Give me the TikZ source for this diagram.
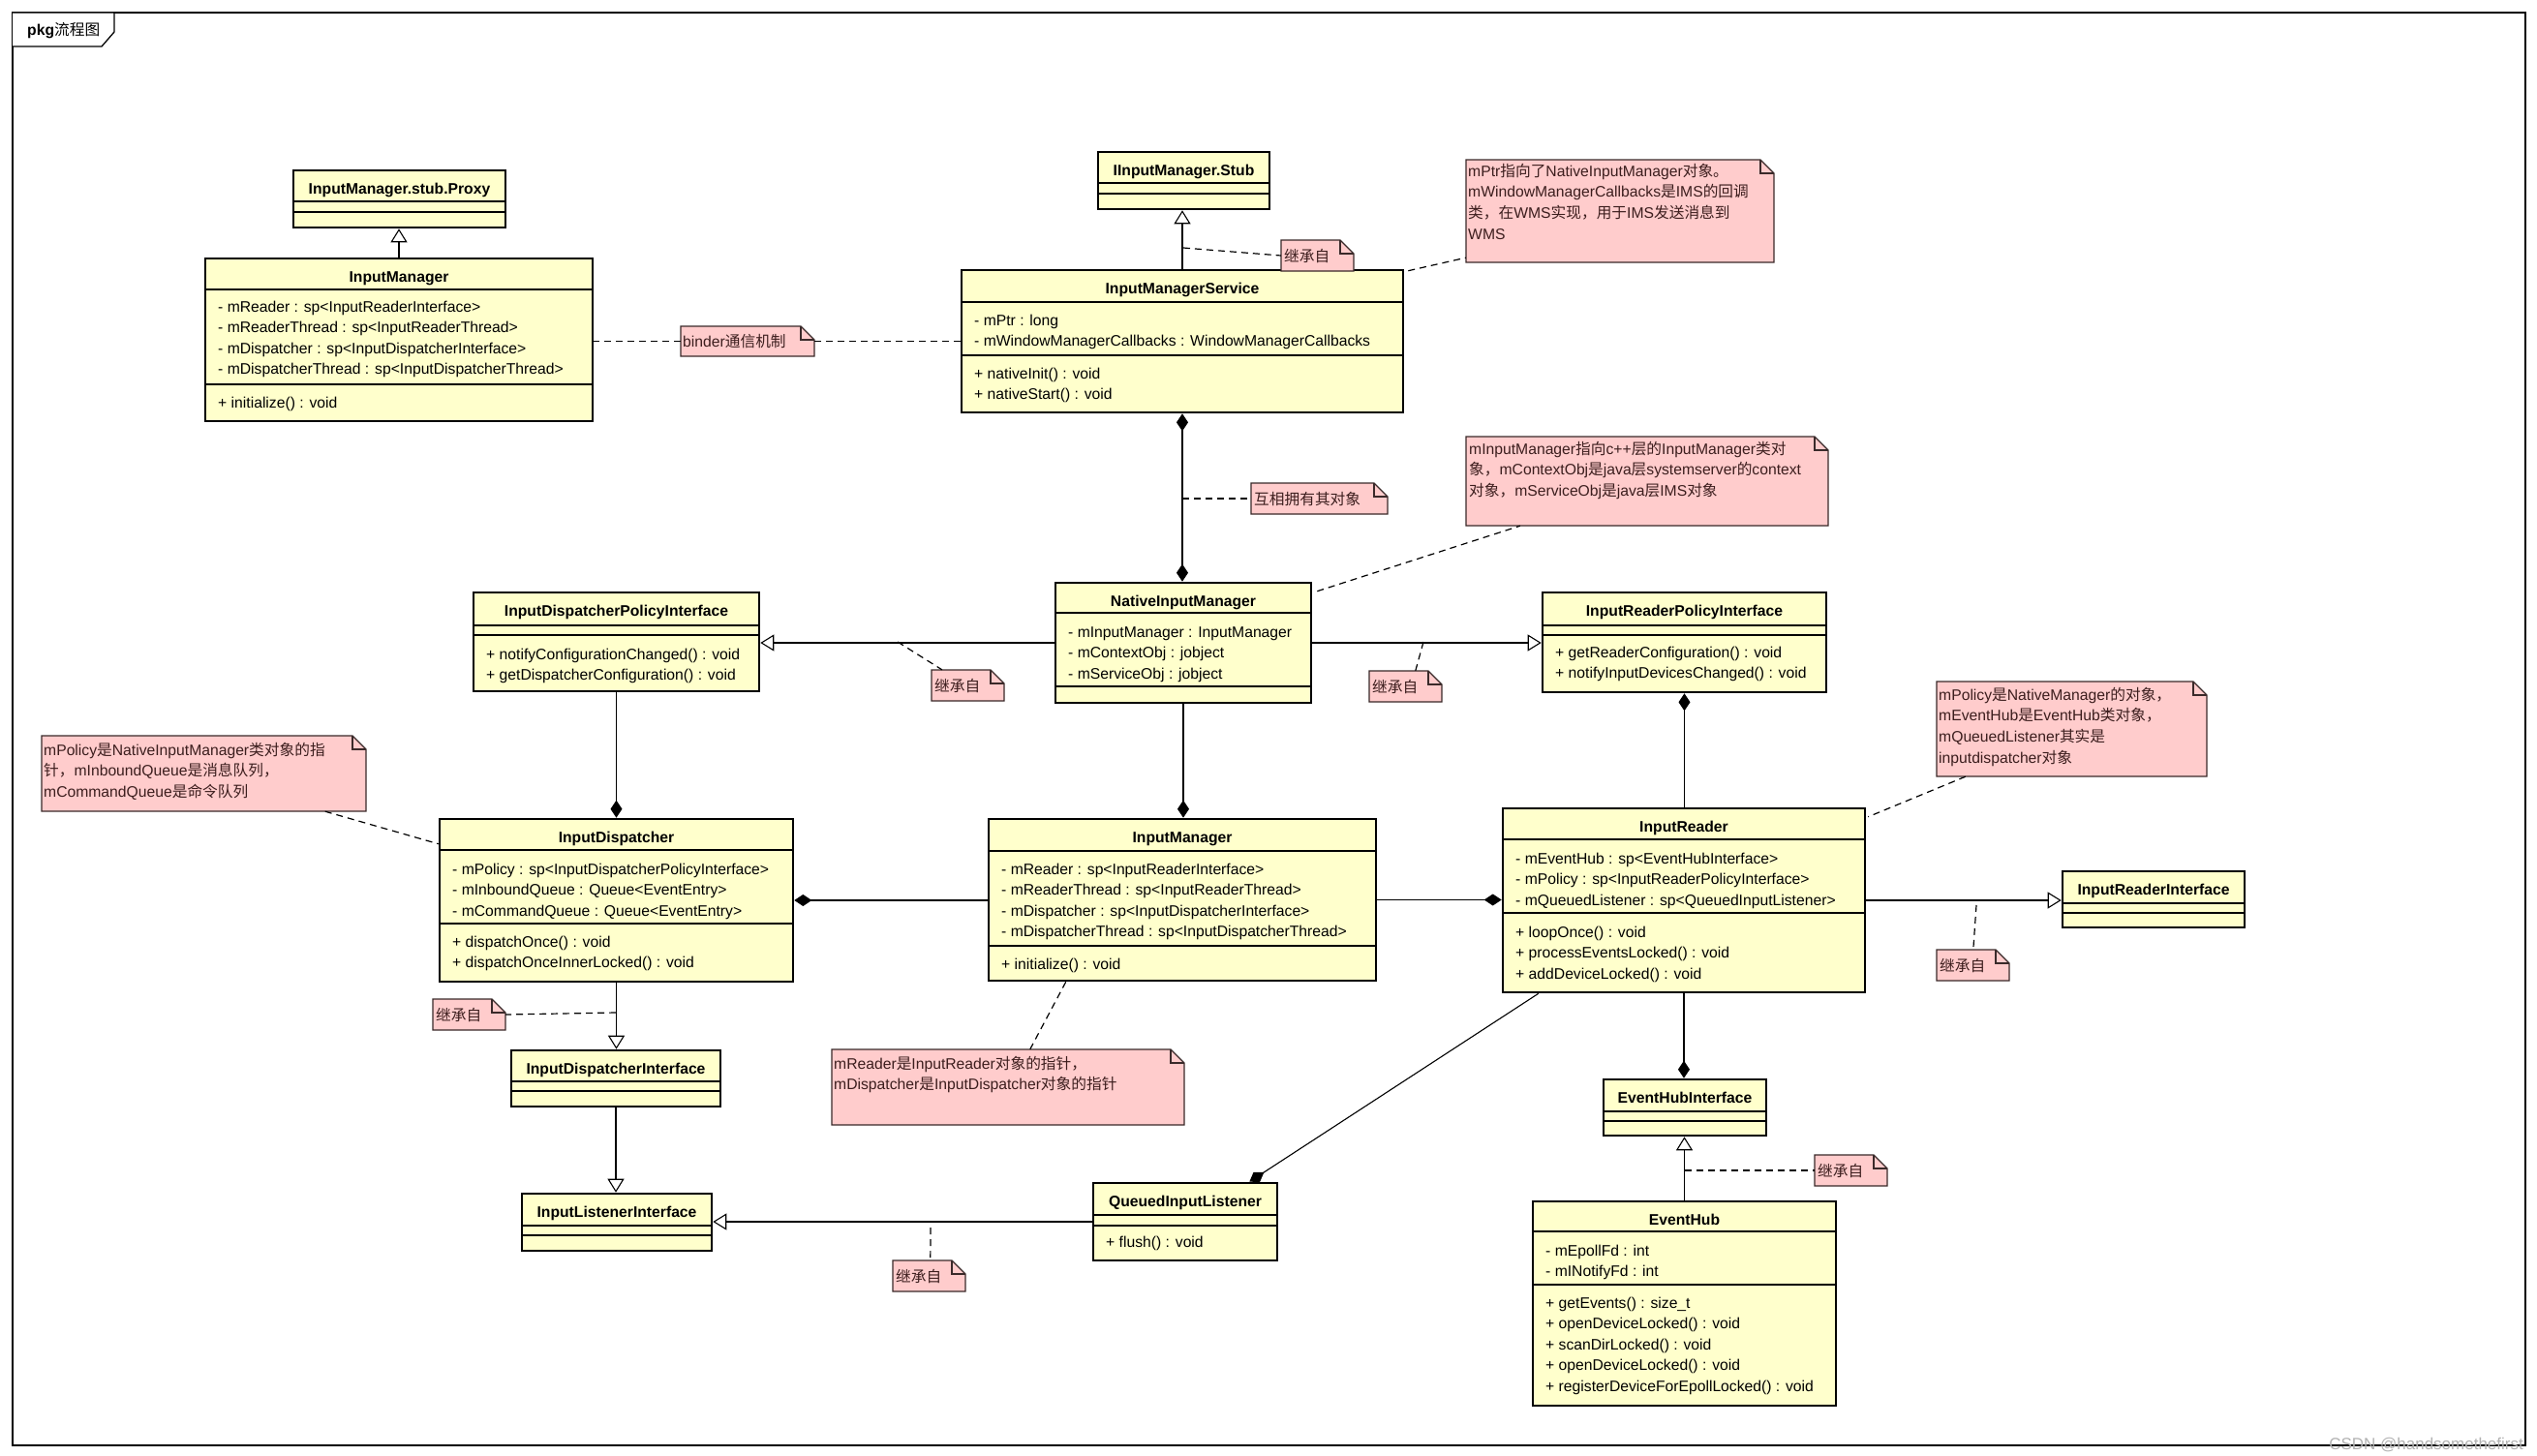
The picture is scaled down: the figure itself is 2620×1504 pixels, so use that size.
\documentclass[tikz,border=0pt]{standalone}
\usepackage{fontspec}
\setmainfont{Liberation Sans}
\newfontfamily\cjk{Noto Sans CJK SC}
\usetikzlibrary{calc, fit, arrows.meta}

\definecolor{classfill}{HTML}{FFFFCC}
\definecolor{notefill}{HTML}{FFCCCC}
\definecolor{notedraw}{HTML}{3A2A2A}
\definecolor{noteink}{HTML}{3C1E1E}

\newcommand{\zh}[1]{{\cjk #1}}

\tikzset{
  classbox/.style={draw=black, line width=2.6pt, fill=classfill, inner sep=0pt},
  classsep/.style={line width=1.2pt},
  classtitle/.style={font=\bfseries\fontsize{15.7}{18}\selectfont, inner sep=0pt},
  member/.style={font=\fontsize{15.7}{18}\selectfont, inner sep=0pt},
  notebox/.style={draw=notedraw, line width=1.3pt, fill=notefill},
  notetext/.style={font=\fontsize{15.7}{18}\selectfont, text=noteink, inner sep=0pt},
  link/.style={line width=1.1pt},
  inherit/.style={link, -{Triangle[open, length=14pt, width=17pt]}},
  ownend/.style={link, -{Diamond[length=18pt, width=12pt]}},
  ownstart/.style={link, {Diamond[length=18pt, width=12pt]}-},
  ownboth/.style={link, {Diamond[length=18pt, width=12pt]}-{Diamond[length=18pt, width=12pt]}},
  notelink/.style={line width=1.2pt, dash pattern=on 7pt off 5pt},
}

% class box: name, x1, y1, x2, y2, first separator, second separator, title
\newcommand{\umlclass}[8]{%
  \node[classbox, fit={(#2,#3) (#4,#5)}] (#1) {};
  \draw[classsep] (#2,#6) -- (#4,#6);
  \draw[classsep] (#2,#7) -- (#4,#7);
  \node[classtitle, anchor=base] at ({(#2+#4)/2},#3+24) {#8};
}
% rows of a class: left edge, centre of first row, rows
\newcommand{\members}[3]{%
  \foreach \rowtext [count=\k from 0] in {#3}
    \node[member, anchor=base west] at (#1+13, #2+5+\k*21.6) {\rowtext};
}
% note with folded corner: name, x1, y1, x2, y2
\newcommand{\umlnote}[5]{%
  \node[inner sep=0pt, fit={(#2,#3) (#4,#5)}] (#1) {};
  \filldraw[notebox] (#2,#3) -- (#4-14,#3) -- (#4,#3+14) -- (#4,#5) -- (#2,#5) -- cycle;
  \draw[notebox, fill=none] (#4-14,#3) -- (#4-14,#3+14) -- (#4,#3+14);
}
\newcommand{\notelines}[3]{%
  \foreach \rowtext [count=\k from 0] in {#3}
    \node[notetext, anchor=base west] at (#1, #2+\k*21.8) {\rowtext};
}
\newcommand{\inhnote}[3]{%
  \umlnote{#1}{#2}{#3}{#2+75}{#3+32}
  \node[notetext, anchor=base west] at (#2+3, #3+22) {\zh{继承自}};
}

\begin{document}
\begin{tikzpicture}[x=1pt, y=-1pt]
\fill[white] (0,0) rectangle (2620,1504);
\useasboundingbox (0,0) rectangle (2620,1504);

% frame
\draw[line width=1.3pt] (13,13) rectangle (2608,1493);
\draw[line width=1.3pt, fill=white] (13,13) -- (118,13) -- (118,33) -- (105,48) -- (13,48);
\node[member, anchor=base west] (tabtext) at (28,37) {\textbf{pkg}\zh{流程图}};

% classes
\umlclass{proxy}{303}{176}{522}{235}{208}{219}{InputManager.stub.Proxy}
\umlclass{imjava}{212}{267}{612}{435}{299}{397}{InputManager}
\members{212}{317}{- mReader : sp<InputReaderInterface>, - mReaderThread : sp<InputReaderThread>, - mDispatcher : sp<InputDispatcherInterface>, - mDispatcherThread : sp<InputDispatcherThread>}
\members{212}{416}{+ initialize() : void}

\umlclass{stub}{1134}{157}{1311}{216}{189}{200}{IInputManager.Stub}
\umlclass{ims}{993}{279}{1449}{426}{312}{367}{InputManagerService}
\members{993}{331}{- mPtr : long, - mWindowManagerCallbacks : WindowManagerCallbacks}
\members{993}{386}{+ nativeInit() : void, + nativeStart() : void}

\umlclass{nim}{1090}{602}{1354}{726}{633}{709}{NativeInputManager}
\members{1090}{653}{- mInputManager : InputManager, - mContextObj : jobject, - mServiceObj : jobject}

\umlclass{idpolicy}{489}{612}{784}{714}{646}{656}{InputDispatcherPolicyInterface}
\members{489}{676}{+ notifyConfigurationChanged() : void, + getDispatcherConfiguration() : void}

\umlclass{irpolicy}{1593}{612}{1886}{715}{646}{656}{InputReaderPolicyInterface}
\members{1593}{674}{+ getReaderConfiguration() : void, + notifyInputDevicesChanged() : void}

\umlclass{disp}{454}{846}{819}{1014}{878}{954}{InputDispatcher}
\members{454}{898}{- mPolicy : sp<InputDispatcherPolicyInterface>, - mInboundQueue : Queue<EventEntry>, - mCommandQueue : Queue<EventEntry>}
\members{454}{973}{+ dispatchOnce() : void, + dispatchOnceInnerLocked() : void}

\umlclass{imcpp}{1021}{846}{1421}{1013}{879}{977}{InputManager}
\members{1021}{898}{- mReader : sp<InputReaderInterface>, - mReaderThread : sp<InputReaderThread>, - mDispatcher : sp<InputDispatcherInterface>, - mDispatcherThread : sp<InputDispatcherThread>}
\members{1021}{996}{+ initialize() : void}

\umlclass{reader}{1552}{835}{1926}{1025}{867}{943}{InputReader}
\members{1552}{887}{- mEventHub : sp<EventHubInterface>, - mPolicy : sp<InputReaderPolicyInterface>, - mQueuedListener : sp<QueuedInputListener>}
\members{1552}{963}{+ loopOnce() : void, + processEventsLocked() : void, + addDeviceLocked() : void}

\umlclass{readeri}{2130}{900}{2318}{958}{933}{943}{InputReaderInterface}
\umlclass{dispi}{528}{1085}{744}{1143}{1117}{1127}{InputDispatcherInterface}
\umlclass{hubi}{1656}{1115}{1824}{1173}{1148}{1158}{EventHubInterface}
\umlclass{listeneri}{539}{1233}{735}{1292}{1266}{1276}{InputListenerInterface}

\umlclass{queued}{1129}{1222}{1319}{1302}{1255}{1266}{QueuedInputListener}
\members{1129}{1283}{+ flush() : void}

\umlclass{hub}{1583}{1241}{1896}{1452}{1272}{1327}{EventHub}
\members{1583}{1292}{- mEpollFd : int, - mINotifyFd : int}
\members{1583}{1346}{+ getEvents() : size\_t, + openDeviceLocked() : void, + scanDirLocked() : void, + openDeviceLocked() : void, + registerDeviceForEpollLocked() : void}

% notes
\umlnote{binder}{703}{337}{841}{368}
\node[notetext, anchor=base west] at (705,358) {binder\zh{通信机制}};
\umlnote{mutual}{1292}{499}{1433}{531}
\node[notetext, anchor=base west] at (1295,521) {\zh{互相拥有其对象}};
\umlnote{mptrnote}{1514}{165}{1832}{271}
\notelines{1516}{182}{mPtr\zh{指向了}NativeInputManager\zh{对象。}, mWindowManagerCallbacks\zh{是}IMS\zh{的回调}, \zh{类，在}WMS\zh{实现，用于}IMS\zh{发送消息到}, WMS}
\umlnote{nimnote}{1514}{451}{1888}{543}
\notelines{1517}{469}{mInputManager\zh{指向}c++\zh{层的}InputManager\zh{类对}, \zh{象，}mContextObj\zh{是}java\zh{层}systemserver\zh{的}context, \zh{对象，}mServiceObj\zh{是}java\zh{层}IMS\zh{对象}}
\umlnote{dispnote}{43}{760}{378}{838}
\notelines{45}{780}{mPolicy\zh{是}NativeInputManager\zh{类对象的指}, \zh{针，}mInboundQueue\zh{是消息队列，}, mCommandQueue\zh{是命令队列}}
\umlnote{readernote}{2000}{704}{2279}{802}
\notelines{2002}{723}{mPolicy\zh{是}NativeManager\zh{的对象，}, mEventHub\zh{是}EventHub\zh{类对象，}, mQueuedListener\zh{其实是}, inputdispatcher\zh{对象}}
\umlnote{imnote}{859}{1084}{1223}{1162}
\notelines{861}{1104}{mReader\zh{是}InputReader\zh{对象的指针，}, mDispatcher\zh{是}InputDispatcher\zh{对象的指针}}

\inhnote{inhstub}{1323}{248}
\inhnote{inhnimleft}{962}{692}
\inhnote{inhnimright}{1414}{693}
\inhnote{inhreader}{2000}{981}
\inhnote{inhdisp}{447}{1032}
\inhnote{inhqueued}{922}{1302}
\inhnote{inhhub}{1874}{1193}

% relations
\draw[inherit] (imjava.north) -- (imjava.north |- proxy.south);
\draw[inherit] (ims.north) -- (ims.north |- stub.south);
\draw[ownboth] (ims.south) -- (ims.south |- nim.north);
\draw[inherit] (nim.west) -- (nim.west -| idpolicy.east);
\draw[inherit] (nim.east) -- (nim.east -| irpolicy.west);
\draw[ownend] (idpolicy.south) -- (idpolicy.south |- disp.north);
\draw[ownend] (nim.south) -- (nim.south |- imcpp.north);
\draw[ownstart] (irpolicy.south) -- (irpolicy.south |- reader.north);
\draw[ownstart] (disp.east) -- (disp.east -| imcpp.west);
\draw[ownend] (imcpp.east) -- (imcpp.east -| reader.west);
\draw[inherit] (reader.east) -- (reader.east -| readeri.west);
\draw[inherit] (disp.south) -- (disp.south |- dispi.north);
\draw[inherit] (dispi.south) -- (dispi.south |- listeneri.north);
\draw[ownend] (reader.south) -- (reader.south |- hubi.north);
\draw[inherit] (hub.north) -- (hub.north |- hubi.south);
\draw[ownend] ($(reader.south west)+(38,0)$) -- ($(queued.north east)+(-30,0)$);
\draw[inherit] (queued.west) -- (queued.west -| listeneri.east);

% note links
\coordinate (stubpt) at (1222,256);
\coordinate (mutualpt) at (1221,515);
\coordinate (nimleftpt) at (927,663);
\coordinate (nimrightpt) at (1470,663);
\coordinate (readerpt) at (2041,935);
\coordinate (disppt) at (636,1046);
\coordinate (queuedpt) at (961,1268);
\coordinate (hubpt) at (1740,1209);
\draw[notelink] (binder.west) -- (binder.west -| imjava.east);
\draw[notelink] (binder.east) -- (binder.east -| ims.west);
\draw[notelink] (stubpt) -- (inhstub.west);
\draw[notelink] (mutualpt) -- (mutual.west);
\draw[notelink] ($(ims.north east)+(4,2)$) -- ($(mptrnote.south west)+(0,-5)$);
\draw[notelink] ($(nim.north east)+(5,10)$) -- ($(nimnote.south west)+(56,0)$);
\draw[notelink] (nimleftpt) -- ($(inhnimleft.north west)+(11,0)$);
\draw[notelink] (nimrightpt) -- ($(inhnimright.north west)+(48,0)$);
\draw[notelink] ($(readernote.south west)+(30,0)$) -- ($(reader.north east)+(2,10)$);
\draw[notelink] ($(dispnote.south west)+(293,0)$) -- ($(disp.north west)+(0,27)$);
\draw[notelink] (readerpt) -- ($(inhreader.north west)+(38,0)$);
\draw[notelink] (disppt) -- (inhdisp.east);
\draw[notelink] ($(imcpp.south west)+(81,0)$) -- ($(imnote.north west)+(205,0)$);
\draw[notelink] (queuedpt) -- ($(inhqueued.north west)+(39,0)$);
\draw[notelink] (hubpt) -- (inhhub.west);

% watermark
\node[anchor=base east, inner sep=0pt, text=gray!60, font=\fontsize{17}{17}\selectfont] (mark) at (2606,1497) {CSDN @handsomethefirst};
\end{tikzpicture}
\end{document}
